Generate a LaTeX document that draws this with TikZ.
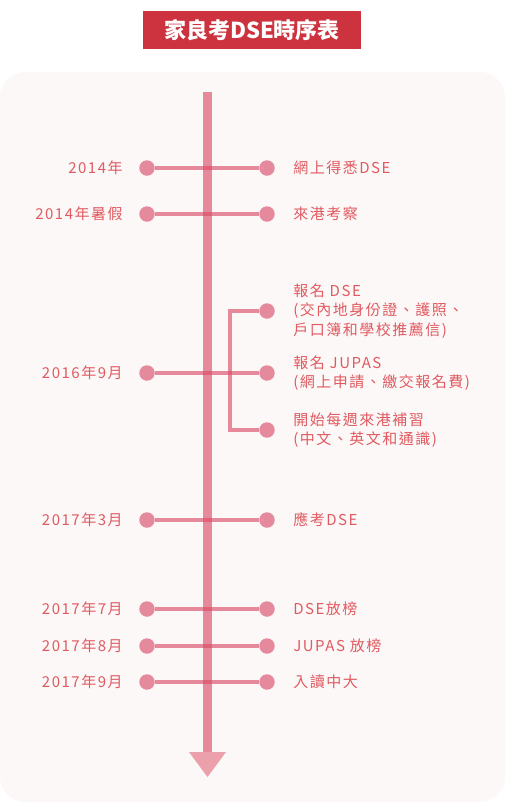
\documentclass[tikz,border=0pt]{standalone}
\usepackage{fontspec}
\usepackage{xcolor}
\usetikzlibrary{arrows.meta,positioning}
\newfontfamily\cjk[LetterSpace=10]{Noto Sans CJK TC}
\newfontfamily\cjktitle{Noto Sans CJK TC}
\definecolor{titlered}{HTML}{CC333E}
\definecolor{panelbg}{HTML}{FCF8F8}
\definecolor{tlpink}{HTML}{D94F6A}
\definecolor{dotpink}{HTML}{E58A9C}
\definecolor{tippink}{HTML}{EBA0AC}
\definecolor{labelred}{HTML}{E05A60}

\begin{document}
\begin{tikzpicture}[x=0.5pt,y=-0.5pt,
  ttl/.style={fill=titlered,text=white,minimum width=109pt,minimum height=19pt,inner sep=0pt,
    font=\cjktitle\bfseries\fontsize{11}{12}\selectfont},
  dot/.style={circle,fill=dotpink,minimum size=7.75pt,inner sep=0pt},
  lbl/.style={text=labelred,inner sep=0pt,font=\cjk\fontsize{7.5}{9.75}\selectfont},
  dl/.style={lbl,anchor=east},
  el/.style={lbl,anchor=west,align=left},
  hl/.style={draw=tlpink,opacity=0.65,line width=2.25pt},
  bar/.style={draw=tlpink,opacity=0.65,line width=4.75pt}]
\useasboundingbox (0,0) rectangle (508,811);
\fill[panelbg,rounded corners=12.5pt] (0,72) rectangle (505,802);
\node[ttl] (title) at (252,30) {家良考DSE時序表};
% timeline
\coordinate (top) at (207.5,92);
\coordinate (bend) at (207.5,752);
\coordinate (bot) at (207.5,777);
\draw[bar] (top) -- (bend);
\fill[tippink] ([xshift=-9.25pt]bend) -- ([xshift=9.25pt]bend) -- (bot) -- cycle;
% dots
\node[dot] (l1) at (147,168) {}; \node[dot] (r1) at (267,168) {};
\node[dot] (l2) at (147,214) {}; \node[dot] (r2) at (267,214) {};
\node[dot] (l3) at (147,373) {};
\node[dot] (r3a) at (267,311) {}; \node[dot] (r3b) at (267,373) {}; \node[dot] (r3c) at (267,430) {};
\node[dot] (l4) at (147,520) {}; \node[dot] (r4) at (267,520) {};
\node[dot] (l5) at (147,609) {}; \node[dot] (r5) at (267,609) {};
\node[dot] (l6) at (147,646) {}; \node[dot] (r6) at (267,646) {};
\node[dot] (l7) at (147,682) {}; \node[dot] (r7) at (267,682) {};
\coordinate (k1) at (230,311);
\draw[hl] (l1) -- (r1); \draw[hl] (l2) -- (r2); \draw[hl] (l3) -- (r3b);
\draw[hl] (r3a) -- (k1) |- (r3c);
\draw[hl] (l4) -- (r4); \draw[hl] (l5) -- (r5); \draw[hl] (l6) -- (r6); \draw[hl] (l7) -- (r7);
% dates
\node[dl] (d1) at (123,168) {2014年};
\node[dl] (d2) at (123,214) {2014年暑假};
\node[dl] (d3) at (123,373) {2016年9月};
\node[dl] (d4) at (123,520) {2017年3月};
\node[dl] (d5) at (123,609) {2017年7月};
\node[dl] (d6) at (123,646) {2017年8月};
\node[dl] (d7) at (123,682) {2017年9月};
% events
\node[el] (e1) at (293,168) {網上得悉DSE};
\node[el] (e2) at (293,214) {來港考察};
\node[el] (e3a) at (293,311) {報名 DSE\\(交內地身份證、護照、\\戶口簿和學校推薦信)};
\node[el] (e3b) at (293,373) {報名 JUPAS\\(網上申請、繳交報名費)};
\node[el] (e3c) at (293,430) {開始每週來港補習\\(中文、英文和通識)};
\node[el] (e4) at (293,520) {應考DSE};
\node[el] (e5) at (293,609) {DSE放榜};
\node[el] (e6) at (293,646) {JUPAS 放榜};
\node[el] (e7) at (293,682) {入讀中大};
\end{tikzpicture}
\end{document}
